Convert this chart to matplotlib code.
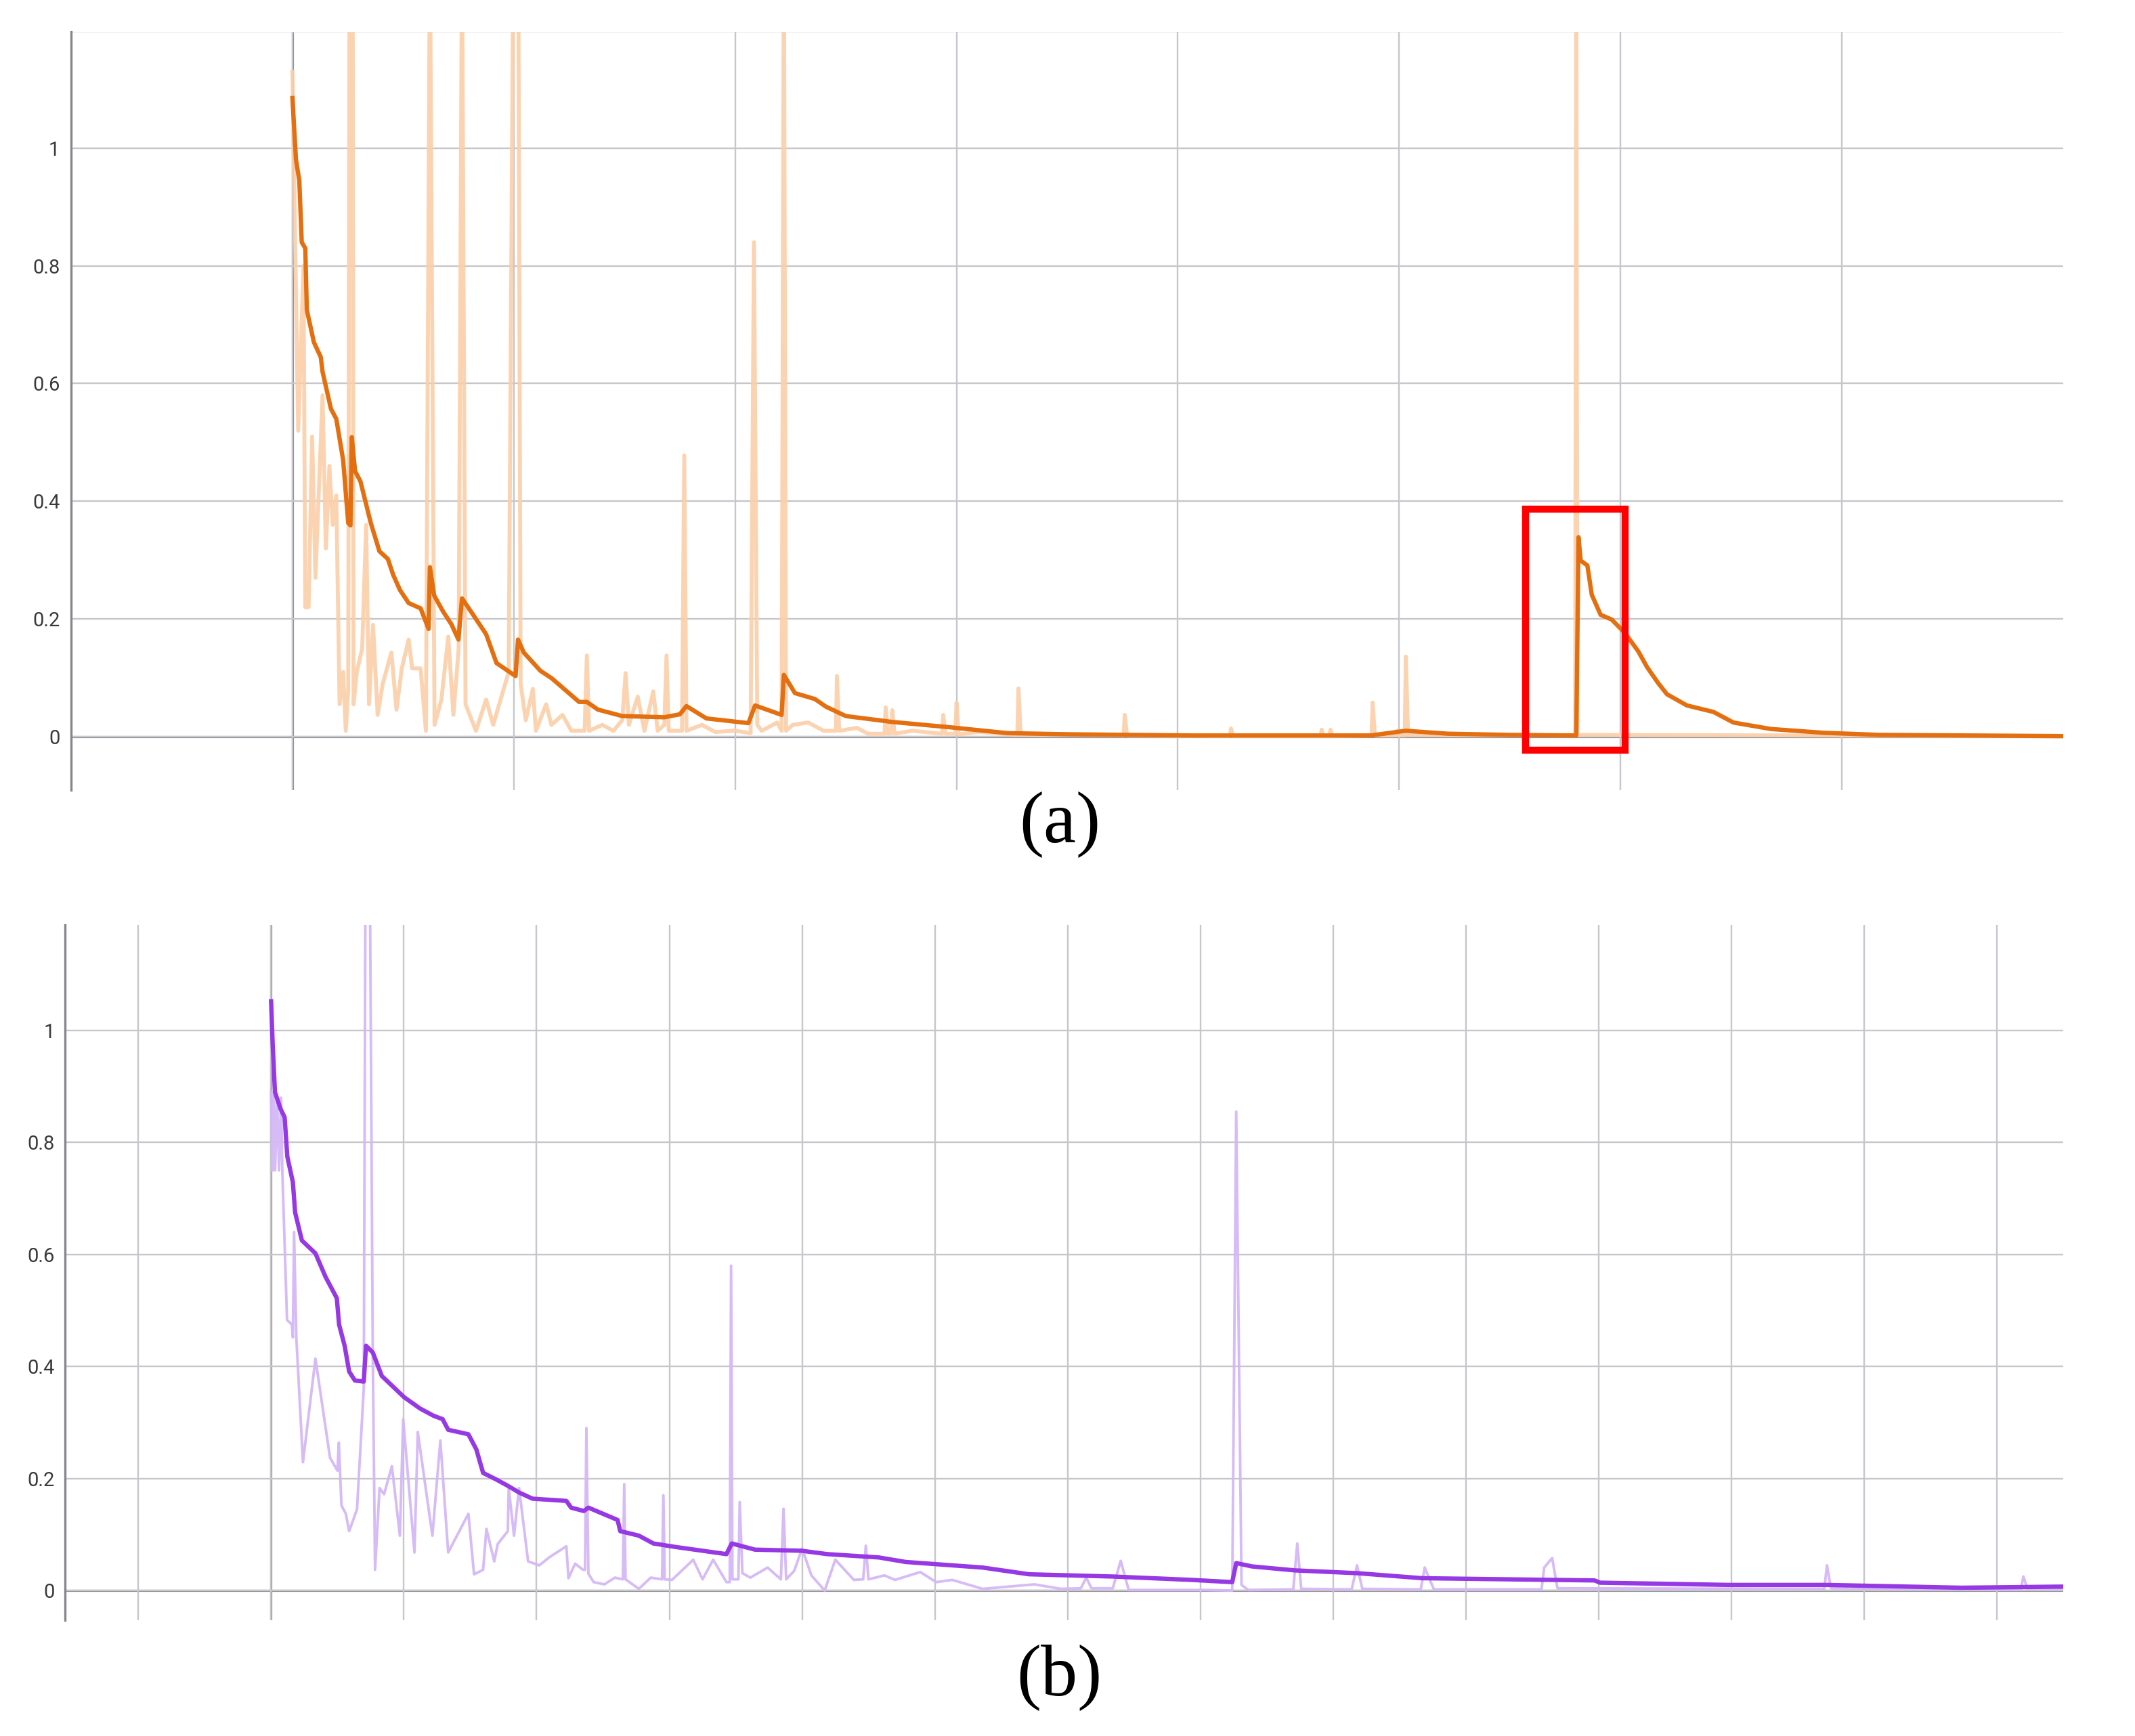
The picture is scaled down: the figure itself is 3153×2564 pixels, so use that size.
import matplotlib
matplotlib.use("Agg")
import matplotlib.pyplot as plt
from matplotlib.patches import Rectangle

# ---- panel (a): loss curve, x in grid units (data starts at gridline 1) ----
a_smooth_x = [1.0, 1.016, 1.031, 1.042, 1.058, 1.065, 1.097, 1.128, 1.136, 1.174, 1.198, 1.229,
              1.252, 1.262, 1.268, 1.283, 1.307, 1.354, 1.393, 1.431, 1.455, 1.486, 1.525, 1.579,
              1.615, 1.621, 1.640, 1.680, 1.718, 1.750, 1.766, 1.813, 1.875, 1.922, 2.008, 2.019,
              2.045, 2.12, 2.172, 2.295, 2.33, 2.38, 2.49, 2.68, 2.75, 2.78, 2.87, 3.06, 3.09,
              3.21, 3.22, 3.27, 3.36, 3.41, 3.50, 3.71, 3.97, 4.23, 4.51, 5.07, 5.87, 6.03, 6.22,
              6.50, 6.80, 6.81, 6.82, 6.85, 6.87, 6.91, 6.96, 7.02, 7.08, 7.12, 7.17, 7.21, 7.30,
              7.42, 7.51, 7.68, 7.92, 8.17, 8.99]
a_smooth_y = [1.085, 0.98, 0.945, 0.84, 0.83, 0.725, 0.67, 0.645, 0.62, 0.557, 0.54, 0.47,
              0.363, 0.359, 0.509, 0.451, 0.434, 0.363, 0.315, 0.302, 0.275, 0.249, 0.227, 0.218,
              0.183, 0.288, 0.24, 0.213, 0.191, 0.165, 0.235, 0.209, 0.174, 0.125, 0.103, 0.165,
              0.143, 0.112, 0.099, 0.059, 0.059, 0.046, 0.035, 0.033, 0.038, 0.052, 0.031, 0.023,
              0.053, 0.037, 0.105, 0.074, 0.064, 0.051, 0.035, 0.025, 0.016, 0.006, 0.004, 0.002,
              0.002, 0.010, 0.005, 0.003, 0.002, 0.339, 0.299, 0.291, 0.241, 0.207, 0.199, 0.176,
              0.145, 0.118, 0.091, 0.072, 0.053, 0.042, 0.024, 0.013, 0.0065, 0.003, 0.001]

a_raw_x = [1.0, 1.006, 1.026, 1.05, 1.058, 1.073, 1.089, 1.104, 1.136, 1.151, 1.167, 1.182,
           1.198, 1.213, 1.229, 1.241, 1.252, 1.258, 1.272, 1.276, 1.291, 1.315, 1.333, 1.346,
           1.364, 1.385, 1.408, 1.447, 1.470, 1.494, 1.525, 1.541, 1.579, 1.603, 1.621, 1.642,
           1.673, 1.704, 1.727, 1.751, 1.766, 1.782, 1.829, 1.875, 1.907, 1.977, 1.998, 2.02,
           2.031, 2.054, 2.086, 2.10, 2.146, 2.17, 2.22, 2.26, 2.32, 2.33, 2.34, 2.40, 2.45,
           2.49, 2.505, 2.52, 2.56, 2.59, 2.63, 2.65, 2.68, 2.69, 2.70, 2.76, 2.77, 2.78, 2.85,
           2.91, 3.0, 3.07, 3.085, 3.10, 3.12, 3.19, 3.21, 3.22, 3.23, 3.26, 3.33, 3.40, 3.455,
           3.46, 3.47, 3.55, 3.6, 3.675, 3.68, 3.69, 3.705, 3.71, 3.72, 3.80, 3.935, 3.94, 3.95,
           3.995, 4.0, 4.01, 4.1, 4.275, 4.28, 4.29, 4.5, 4.755, 4.76, 4.77, 5.235, 5.24, 5.25,
           5.645, 5.65, 5.655, 5.685, 5.69, 5.695, 5.875, 5.88, 5.89, 5.985, 5.99, 6.0, 6.025,
           6.03, 6.04, 6.795, 6.80, 6.805, 9.0]
a_raw_y = [1.13, 0.99, 0.52, 0.80, 0.22, 0.22, 0.51, 0.27, 0.58, 0.32, 0.46, 0.36,
           0.41, 0.055, 0.11, 0.01, 0.08, 1.35, 1.35, 0.055, 0.11, 0.15, 0.36, 0.055,
           0.19, 0.037, 0.09, 0.143, 0.046, 0.116, 0.165, 0.116, 0.116, 0.01, 1.35, 0.02,
           0.063, 0.17, 0.037, 0.15, 1.35, 0.055, 0.01, 0.063, 0.02, 0.11, 1.35, 1.35,
           0.09, 0.028, 0.081, 0.01, 0.055, 0.02, 0.037, 0.01, 0.01, 0.138, 0.01, 0.02, 0.01,
           0.028, 0.108, 0.02, 0.068, 0.01, 0.077, 0.01, 0.02, 0.138, 0.01, 0.01, 0.478, 0.01, 0.02,
           0.008, 0.01, 0.006, 0.84, 0.02, 0.01, 0.024, 0.01, 1.35, 0.01, 0.02, 0.024, 0.01, 0.01,
           0.103, 0.01, 0.015, 0.005, 0.005, 0.05, 0.005, 0.005, 0.045, 0.005, 0.01, 0.005, 0.037, 0.005,
           0.005, 0.058, 0.004, 0.008, 0.003, 0.082, 0.003, 0.004, 0.002, 0.037, 0.002, 0.001, 0.014, 0.001,
           0.001, 0.012, 0.001, 0.001, 0.012, 0.001, 0.002, 0.058, 0.002, 0.002, 0.01, 0.002, 0.002,
           0.136, 0.003, 0.002, 1.35, 0.003, 0.001]

a_box = (6.57, -0.023, 0.45, 0.41)  # highlighted region (x, y, w, h)

# ---- panel (b): loss curve, x in grid units (data starts at gridline 1) ----
b_smooth_x = [1.0, 1.012, 1.029, 1.071, 1.102, 1.122, 1.164, 1.181, 1.232, 1.334, 1.41, 1.495,
              1.512, 1.554, 1.588, 1.631, 1.698, 1.715, 1.766, 1.834, 2.003, 2.122, 2.224, 2.292,
              2.334, 2.486, 2.546, 2.597, 2.698, 2.783, 2.868, 2.969, 3.224, 3.26, 3.355, 3.39,
              3.61, 3.63, 3.77, 3.88, 4.04, 4.43, 4.47, 4.645, 4.996, 5.19, 5.58, 5.78, 6.36,
              6.71, 7.34, 7.93, 8.24, 8.27, 8.39, 8.71, 9.18, 9.67, 10.97, 11.01, 11.98, 12.72,
              13.73, 14.5]
b_smooth_y = [1.052, 0.975, 0.89, 0.86, 0.845, 0.775, 0.729, 0.675, 0.625, 0.602, 0.56, 0.522,
              0.475, 0.437, 0.391, 0.375, 0.373, 0.437, 0.425, 0.383, 0.345, 0.325, 0.312, 0.306,
              0.287, 0.279, 0.252, 0.21, 0.198, 0.187, 0.175, 0.164, 0.16, 0.148, 0.142, 0.148,
              0.126, 0.106, 0.098, 0.084, 0.078, 0.065, 0.084, 0.073, 0.071, 0.065, 0.059, 0.051,
              0.041, 0.029, 0.025, 0.019, 0.015, 0.049, 0.043, 0.036, 0.031, 0.022, 0.018, 0.014,
              0.010, 0.010, 0.005, 0.007]

b_raw_x = [1.0, 1.01, 1.02, 1.03, 1.045, 1.06, 1.075, 1.085, 1.12, 1.156, 1.164, 1.173, 1.19,
           1.24, 1.334, 1.444, 1.50, 1.51, 1.53, 1.563, 1.588, 1.647, 1.698, 1.712, 1.742, 1.766,
           1.783, 1.817, 1.851, 1.91, 1.97, 1.995, 2.08, 2.105, 2.215, 2.275, 2.334, 2.486, 2.529,
           2.597, 2.622, 2.681, 2.707, 2.783, 2.79, 2.83, 2.868, 2.936, 3.02, 3.10, 3.224, 3.24,
           3.29, 3.35, 3.365, 3.375, 3.39, 3.43, 3.51, 3.59, 3.65, 3.66, 3.67, 3.77, 3.86, 3.945,
           3.955, 3.965, 4.02, 4.18, 4.25, 4.33, 4.43, 4.455, 4.465, 4.475, 4.52, 4.53, 4.55, 4.61,
           4.74, 4.84, 4.86, 4.88, 4.94, 5.0, 5.07, 5.17, 5.25, 5.39, 5.46, 5.48, 5.50, 5.62,
           5.70, 5.89, 6.01, 6.13, 6.36, 6.75, 6.95, 7.10, 7.14, 7.18, 7.34, 7.40, 7.46, 8.04,
           8.24, 8.27, 8.31, 8.36, 8.70, 8.73, 8.76, 9.14, 9.18, 9.22, 9.66, 9.69, 9.73, 9.76,
           10.57, 10.59, 10.65, 10.69, 12.70, 12.72, 12.75, 14.18, 14.2, 14.23, 14.5]
b_raw_y = [0.89, 0.75, 0.89, 0.75, 0.88, 0.75, 0.88, 0.745, 0.483, 0.475, 0.452, 0.64, 0.452,
           0.229, 0.414, 0.237, 0.214, 0.264, 0.152, 0.137, 0.106, 0.145, 0.36, 1.35, 1.35, 0.42,
           0.037, 0.183, 0.172, 0.222, 0.098, 0.306, 0.068, 0.283, 0.098, 0.268, 0.068, 0.137, 0.029,
           0.037, 0.11, 0.052, 0.083, 0.106, 0.183, 0.098, 0.183, 0.052, 0.045, 0.06, 0.079, 0.022,
           0.048, 0.037, 0.037, 0.29, 0.03, 0.015, 0.011, 0.023, 0.02, 0.19, 0.02, 0.003, 0.023, 0.02,
           0.17, 0.02, 0.019, 0.055, 0.02, 0.055, 0.015, 0.015, 0.58, 0.02, 0.02, 0.158, 0.031, 0.023,
           0.041, 0.02, 0.146, 0.02, 0.035, 0.075, 0.027, 0.0, 0.055, 0.019, 0.02, 0.08, 0.02, 0.027,
           0.019, 0.033, 0.015, 0.019, 0.003, 0.011, 0.003, 0.004, 0.023, 0.004, 0.004, 0.053, 0.001,
           0.001, 0.0, 0.855, 0.01, 0.001, 0.002, 0.084, 0.003, 0.002, 0.045, 0.003, 0.002, 0.041,
           0.018, 0.002, 0.002, 0.041, 0.058, 0.004, 0.003, 0.045, 0.004, 0.002, 0.025, 0.003, 0.003]

y_ticks = [0, 0.2, 0.4, 0.6, 0.8, 1]
y_tick_labels = ["0", "0.2", "0.4", "0.6", "0.8", "1"]

GRID = "#c6c6cb"
AXIS = "#86868c"


def style_panel(ax, xlim, ylim, xgrid, start_x, pad):
    ax.set_xlim(*xlim)
    ax.set_ylim(*ylim)
    ax.set_xticks(xgrid)
    ax.set_xticklabels([])
    ax.set_yticks(y_ticks)
    ax.set_yticklabels(y_tick_labels, fontsize=21, color="#3a3a3a", family="Roboto")
    ax.tick_params(length=0, pad=pad)
    ax.grid(True, color=GRID, lw=1.7)
    ax.set_axisbelow(True)
    for s in ("top", "right", "bottom"):
        ax.spines[s].set_visible(False)
    ax.spines["left"].set_color(AXIS)
    ax.spines["left"].set_linewidth(2.4)
    ax.axhline(0, color=AXIS, lw=2.3, zorder=0.5)
    ax.axvline(start_x, color=AXIS, lw=2.3, zorder=0.5)


fig = plt.figure(figsize=(31.53, 25.64), dpi=100)

ax_a = fig.add_axes([0.0333, 0.5448, 0.9331, 0.4370])
style_panel(ax_a, (0, 9), (-0.091, 1.198), range(1, 9), 1, 12)
ax_a.axhline(1.198, color="#e6e6e8", lw=1.4, zorder=0.5)
ax_a.plot(a_raw_x, a_raw_y, color="#fbcfa9", lw=4.2, alpha=0.9, zorder=2)
ax_a.plot(a_smooth_x, a_smooth_y, color="#e46f10", lw=4.6, zorder=3)
ax_a.add_patch(Rectangle(a_box[:2], a_box[2], a_box[3], fill=False,
                         edgecolor="#ff0000", lw=7.5, zorder=4))

ax_b = fig.add_axes([0.0306, 0.0667, 0.9358, 0.4007])
style_panel(ax_b, (-0.55, 14.5), (-0.053, 1.189), range(0, 15), 1, 11)
ax_b.plot(b_raw_x, b_raw_y, color="#d4b8f6", lw=2.8, alpha=0.95, zorder=2)
ax_b.plot(b_smooth_x, b_smooth_y, color="#9638e4", lw=4.6, zorder=3)

fig.text(0.4963, 0.525, "(a)", ha="center", va="center", fontsize=78,
         family="Liberation Serif")
fig.text(0.4963, 0.0337, "(b)", ha="center", va="center", fontsize=78,
         family="Liberation Serif")

fig.savefig("out.png", dpi=100, facecolor="white")
